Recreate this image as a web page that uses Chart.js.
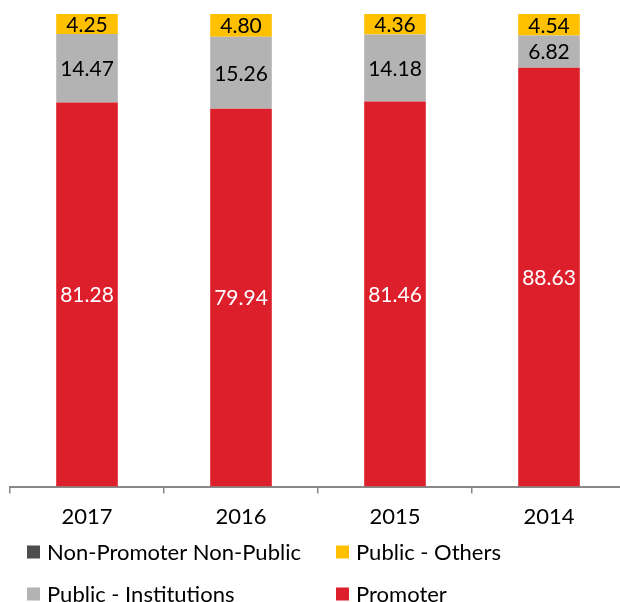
<!DOCTYPE html>
<html>
<head>
<meta charset="utf-8">
<script src="https://cdn.jsdelivr.net/npm/chart.js@4"></script>
<style>
  html, body { margin: 0; padding: 0; background: #fff; overflow: hidden; }
  #chart { display: block; }
</style>
</head>
<body>
<canvas id="chart" width="626" height="602"></canvas>
<script>
// shareholding pattern, %
const years = ["2017", "2016", "2015", "2014"];
const promoter     = [81.28, 79.94, 81.46, 88.63];
const publicInst   = [14.47, 15.26, 14.18, 6.82];
const publicOthers = [4.25, 4.80, 4.36, 4.54];
const nonPromoter  = [null, null, null, 0.01];

const FONT = "Lato, 'Open Sans', sans-serif";

// values written inside each segment
const segLabels = {
  id: "segLabels",
  afterDatasetsDraw(chart) {
    const c = chart.ctx;
    c.save();
    c.font = "21px " + FONT;
    c.textAlign = "center";
    c.textBaseline = "middle";
    chart.data.datasets.forEach((ds, i) => {
      if (ds.noLabel) return;
      chart.getDatasetMeta(i).data.forEach((bar, j) => {
        const v = ds.data[j];
        if (v == null) return;
        c.fillStyle = ds.labelColor;
        c.fillText(v.toFixed(2), bar.x, (bar.y + bar.base) / 2 + 1);
      });
    });
    c.restore();
  }
};

// two-column legend under the axis
const gridLegend = {
  id: "gridLegend",
  afterDraw(chart) {
    const c = chart.ctx;
    const order = chart.data.datasets.slice().reverse();
    const cols = [27, 336], rows = [552, 594];
    c.save();
    c.font = "22px " + FONT;
    c.textBaseline = "middle";
    order.forEach((ds, k) => {
      const x = cols[k % 2], y = rows[Math.floor(k / 2)];
      c.fillStyle = ds.backgroundColor;
      c.fillRect(x, y - 6.5, 13, 13);
      c.fillStyle = "#000";
      c.fillText(ds.label, x + 20, y + 1);
    });
    c.restore();
  }
};

new Chart(document.getElementById("chart"), {
  type: "bar",
  data: {
    labels: years,
    datasets: [
      { label: "Promoter", data: promoter, backgroundColor: "#dc1f2b", labelColor: "#fff" },
      { label: "Public - Institutions", data: publicInst, backgroundColor: "#b3b3b3", labelColor: "#000" },
      { label: "Public - Others", data: publicOthers, backgroundColor: "#ffc000", labelColor: "#000" },
      { label: "Non-Promoter Non-Public", data: nonPromoter, backgroundColor: "#4d4d4d", noLabel: true, minBarLength: 1.5 }
    ]
  },
  options: {
    responsive: false,
    animation: false,
    layout: { padding: { left: 10, right: 0, top: 14, bottom: 62 } },
    datasets: { bar: { barPercentage: 0.4, categoryPercentage: 1, borderWidth: 0 } },
    plugins: { legend: { display: false }, tooltip: { enabled: false } },
    scales: {
      x: {
        stacked: true,
        grid: { display: true, drawOnChartArea: false, tickLength: 7, color: "#888", lineWidth: 1.5 },
        border: { display: true, color: "#888", width: 2 },
        ticks: { color: "#000", font: { family: FONT, size: 22 }, padding: 10 }
      },
      y: { stacked: true, display: false, min: 0, max: 100 }
    }
  },
  plugins: [segLabels, gridLegend]
});
</script>
</body>
</html>
